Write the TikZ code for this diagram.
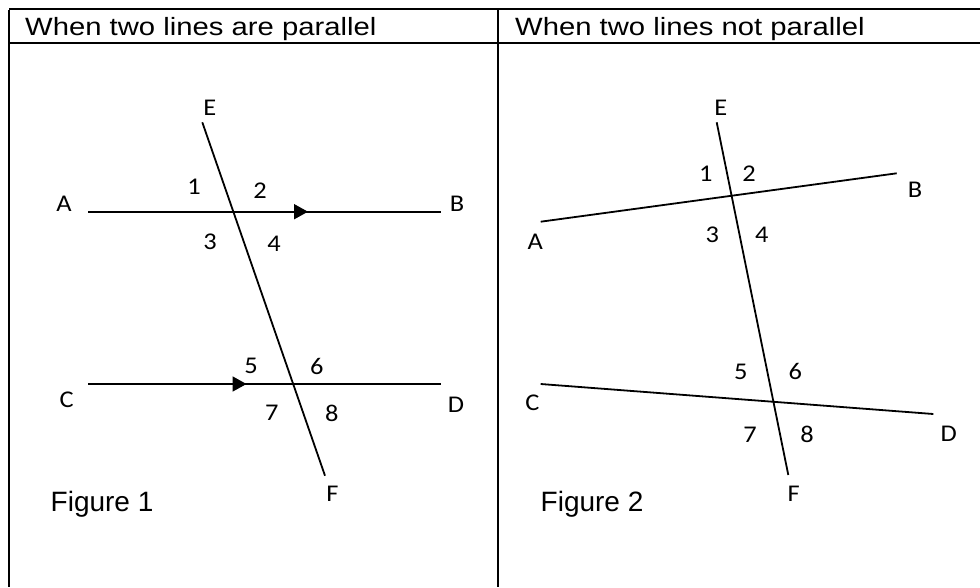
\documentclass[tikz,border=0pt]{standalone}
\usepackage{fontspec}
\setmainfont{Liberation Sans}
\newfontfamily\headfont[FakeStretch=1.17]{Liberation Sans}
\newfontfamily\lblfont[FakeStretch=1.1]{Carlito}
\usetikzlibrary{arrows.meta}
\begin{document}
\begin{tikzpicture}[x=1pt,y=-1pt,
  frame/.style={line width=2pt},
  ln/.style={line width=1.8pt},
  lbl/.style={inner sep=0pt,font=\lblfont\fontsize{24}{24}\selectfont},
  head/.style={inner sep=0pt,anchor=base west,font=\headfont\fontsize{25}{26}\selectfont},
  figcap/.style={inner sep=0pt,anchor=base west,font=\fontsize{28}{28}\selectfont},
  tipmark/.style={-{Triangle[length=14pt,width=15pt]}}]
\useasboundingbox (0,0) rectangle (980,587);
% table
\coordinate (tl) at (9,9);
\coordinate (tr) at (980,9);
\coordinate (hl) at (9,43);
\coordinate (hr) at (980,43);
\coordinate (bl) at (9,587);
\coordinate (mt) at (498,9);
\coordinate (mb) at (498,587);
\draw[frame] (tl) -- (tr);
\draw[frame] (hl) -- (hr);
\draw[frame] ([yshift=-1pt]tl) -- (bl);
\draw[frame] ([yshift=-1pt]mt) -- (mb);
\node[head] (h1) at (25,35.5) {When two lines are parallel};
\node[head] (h2) at (515,35.5) {When two lines not parallel};
% Figure 1
\coordinate (e1) at (202.3,122.3);
\coordinate (f1) at (325,475.7);
\coordinate (a1) at (88,211.7);
\coordinate (b1) at (440.7,211.7);
\coordinate (ar1) at (308,211.7);
\coordinate (c1) at (88,384);
\coordinate (d1) at (440.7,384);
\coordinate (ar2) at (246.5,384);
\draw[ln] (e1) -- (f1);
\draw[ln] (a1) -- (b1);
\draw[ln,tipmark] (a1) -- (ar1);
\draw[ln] (c1) -- (d1);
\draw[ln,tipmark] (c1) -- (ar2);
\node[lbl] (E1) at (209.7,108) {E};
\node[lbl] (A1) at (64,204) {A};
\node[lbl] (B1) at (457,204) {B};
\node[lbl] (n11) at (194,187) {1};
\node[lbl] (n12) at (260,191) {2};
\node[lbl] (n13) at (210,242) {3};
\node[lbl] (n14) at (274,244) {4};
\node[lbl] (C1) at (66.7,399.7) {C};
\node[lbl] (D1) at (456,405) {D};
\node[lbl] (n15) at (251,366) {5};
\node[lbl] (n16) at (316.7,366) {6};
\node[lbl] (n17) at (271.7,413) {7};
\node[lbl] (n18) at (331.7,413) {8};
\node[lbl] (F1) at (332.5,494) {F};
\node[figcap] (fig1) at (50.5,511.5) {Figure 1};
% Figure 2
\coordinate (e2) at (716.7,122.3);
\coordinate (f2) at (788.3,475);
\coordinate (a2) at (540.7,221.7);
\coordinate (b2) at (896.7,173.3);
\coordinate (c2) at (540.7,384);
\coordinate (d2) at (933.3,414);
\draw[ln] (e2) -- (f2);
\draw[ln] (a2) -- (b2);
\draw[ln] (c2) -- (d2);
\node[lbl] (E2) at (720.7,108) {E};
\node[lbl] (A2) at (535.3,241.7) {A};
\node[lbl] (B2) at (915,190) {B};
\node[lbl] (n21) at (705.7,173.7) {1};
\node[lbl] (n22) at (749,173.7) {2};
\node[lbl] (n23) at (712.3,234.3) {3};
\node[lbl] (n24) at (761.7,234.3) {4};
\node[lbl] (C2) at (532.3,403) {C};
\node[lbl] (D2) at (948.7,433.3) {D};
\node[lbl] (n25) at (740.7,371.7) {5};
\node[lbl] (n26) at (795.3,371.7) {6};
\node[lbl] (n27) at (750,434.3) {7};
\node[lbl] (n28) at (807,434.3) {8};
\node[lbl] (F2) at (793.7,494) {F};
\node[figcap] (fig2) at (540.5,511.5) {Figure 2};
\end{tikzpicture}
\end{document}
